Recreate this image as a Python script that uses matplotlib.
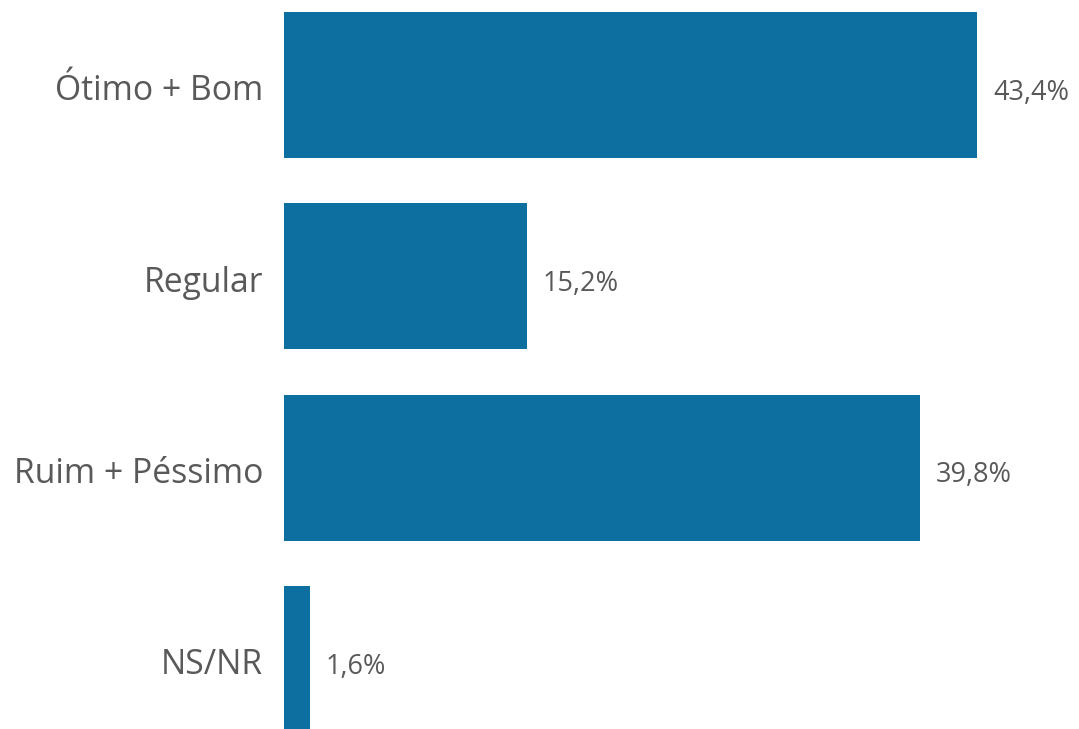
import matplotlib
matplotlib.use("Agg")
import matplotlib.pyplot as plt

categories = ["Ótimo + Bom", "Regular", "Ruim + Péssimo", "NS/NR"]
values = [43.4, 15.2, 39.8, 1.6]
value_labels = ["43,4%", "15,2%", "39,8%", "1,6%"]

W, H = 1079, 729
fig = plt.figure(figsize=(W / 100, H / 100), dpi=100)
ax = fig.add_axes([284 / W, 0, 1 - 284 / W, 1])

bar_color = "#0D6F9F"
text_color = "#595959"
font = "Open Sans"

ypos = list(range(len(categories)))
ax.barh(ypos, values, height=0.763, color=bar_color)
ax.set_xlim(0, (W - 284) / 15.97)
ax.set_ylim((729 - 85) / 191.3, -85 / 191.3)

for y, v, lab, cat in zip(ypos, values, value_labels, categories):
    ax.annotate(lab, (v, y), xytext=(11.5, -5.5), textcoords="offset points",
                va="center", ha="left", fontsize=19.5, color=text_color, family=font)
    ax.annotate(cat, (0, y), xytext=(-15, -4.5), textcoords="offset points",
                va="center", ha="right", fontsize=24.3, color=text_color, family=font,
                annotation_clip=False)

ax.set_yticks([])
ax.set_xticks([])
for s in ax.spines.values():
    s.set_visible(False)

fig.savefig("out.png", dpi=100)
